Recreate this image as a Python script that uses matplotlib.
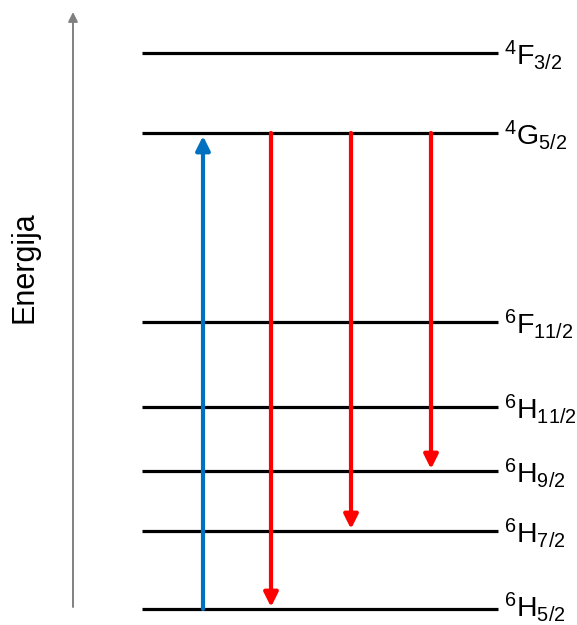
import matplotlib
matplotlib.use('Agg')
import matplotlib.pyplot as plt

# 能级数据 (任意单位)
level_names = ['^{4}F_{3/2}', '^{4}G_{5/2}', '^{6}F_{11/2}', '^{6}H_{11/2}',
               '^{6}H_{9/2}', '^{6}H_{7/2}', '^{6}H_{5/2}']
level_energy = [556, 476, 287, 202, 138, 78, 0]

# 跃迁: (起始能级, 终止能级)
absorption = [('^{6}H_{5/2}', '^{4}G_{5/2}')]
emission = [('^{4}G_{5/2}', '^{6}H_{5/2}'),
            ('^{4}G_{5/2}', '^{6}H_{7/2}'),
            ('^{4}G_{5/2}', '^{6}H_{9/2}')]

plt.rcParams['font.family'] = ['Liberation Sans', 'DejaVu Sans']
plt.rcParams['mathtext.fontset'] = 'custom'
plt.rcParams['mathtext.rm'] = 'Liberation Sans'
plt.rcParams['mathtext.it'] = 'Liberation Sans'
plt.rcParams['mathtext.default'] = 'regular'

fig = plt.figure(figsize=(5.77, 6.25), dpi=100)
ax = fig.add_axes([0, 0, 1, 1])
ax.set_xlim(0, 577)
ax.set_ylim(-16, 609)
ax.axis('off')

E = dict(zip(level_names, level_energy))

# 能级线和标签
for name, e in zip(level_names, level_energy):
    ax.plot([142, 498], [e, e], color='black', lw=2.3, solid_capstyle='butt')
    ax.text(504, max(e - 2, 2), '$' + name + '$', fontsize=20.5, va='center', ha='left')

# 能量轴
ax.annotate('', xy=(73, 597), xytext=(73, 2),
            arrowprops=dict(arrowstyle='-|>', color='#808080', lw=1.4,
                            mutation_scale=14, shrinkA=0, shrinkB=0))
ax.text(25, 342, 'Energija', rotation=90, fontsize=22, va='center', ha='center')

# 吸收 (蓝色)
for (a, b), x in zip(absorption, [203]):
    ax.annotate('', xy=(x, E[b] - 3), xytext=(x, E[a]),
                arrowprops=dict(arrowstyle='-|>', color='#0070C0', lw=3,
                                mutation_scale=21, shrinkA=0, shrinkB=0))

# 发射 (红色)
for (a, b), x in zip(emission, [271, 351, 431]):
    ax.annotate('', xy=(x, E[b] + 2), xytext=(x, E[a]),
                arrowprops=dict(arrowstyle='-|>', color='#FF0000', lw=3,
                                mutation_scale=21, shrinkA=0, shrinkB=0))

fig.savefig('out.png', dpi=100)
